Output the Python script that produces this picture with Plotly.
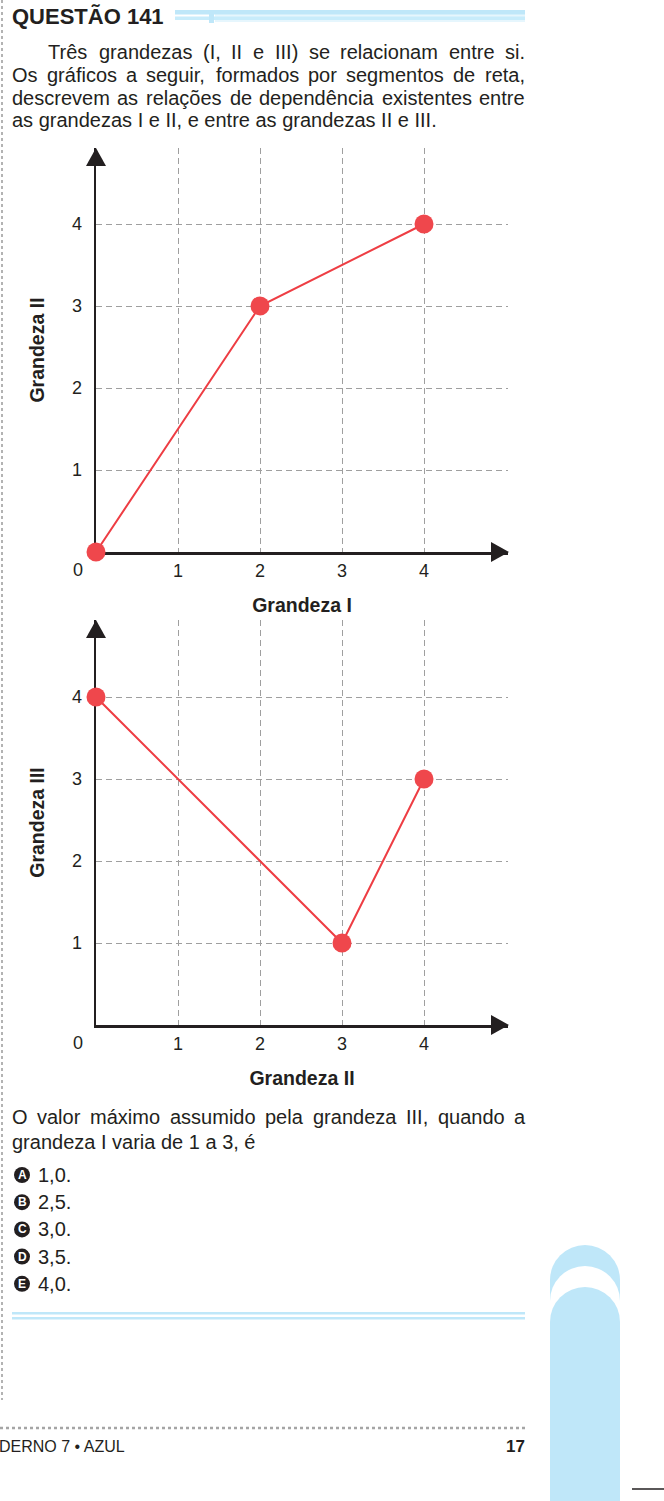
import unicodedata
import plotly.graph_objects as go

# ---------------- data ----------------
g1_grandeza_I = [0, 2, 4]
g1_grandeza_II = [0, 3, 4]
g2_grandeza_II = [0, 3, 4]
g2_grandeza_III = [4, 1, 3]
tick_vals = [1, 2, 3, 4]
tick_text = ["1", "2", "3", "4"]

title_text = "QUESTÃO 141"
intro_lines = [
    "Três grandezas (I, II e III) se relacionam entre si.",
    "Os gráficos a seguir, formados por segmentos de reta,",
    "descrevem as relações de dependência existentes entre",
    "as grandezas I e II, e entre as grandezas II e III.",
]
question_lines = [
    "O valor máximo assumido pela grandeza III, quando a",
    "grandeza I varia de 1 a 3, é",
]
option_letters = ["A", "B", "C", "D", "E"]
option_texts = ["1,0.", "2,5.", "3,0.", "3,5.", "4,0."]
footer_left = "DERNO 7 • AZUL"
footer_right = "17"

# ---------------- layout helpers ----------------
W_PX, H_PX = 664, 1501
FONT = "Liberation Sans, Arial, sans-serif"
INK = "#231f20"
RED_LINE = "#ee3d43"
RED_DOT = "#ef474c"
BLUE = "#bfe7f9"
GRID = "#9f9f9f"


def X(px):
    return px / W_PX


def Y(py):
    return 1 - py / H_PX


ARIAL = {
    " ": 278, "(": 333, ")": 333, ",": 278, ".": 278, "•": 350,
    "A": 667, "B": 667, "C": 722, "D": 722, "E": 667, "F": 611, "G": 778,
    "H": 722, "I": 278, "J": 500, "K": 667, "L": 556, "M": 833, "N": 722,
    "O": 778, "P": 667, "Q": 778, "R": 722, "S": 667, "T": 611, "U": 722,
    "V": 667, "W": 944, "X": 667, "Y": 667, "Z": 611,
    "a": 556, "b": 556, "c": 500, "d": 556, "e": 556, "f": 278, "g": 556,
    "h": 556, "i": 222, "j": 222, "k": 500, "l": 222, "m": 833, "n": 556,
    "o": 556, "p": 556, "q": 556, "r": 333, "s": 500, "t": 278, "u": 556,
    "v": 500, "w": 722, "x": 500, "y": 500, "z": 500,
}


def text_width(s, size):
    tot = 0
    for ch in s:
        base = unicodedata.normalize("NFD", ch)[0]
        tot += ARIAL.get(base, 556)
    return tot * size / 1000


annotations = []
shapes = []


def add_text(txt, x, y, size=20, bold=False, xanchor="left", color=INK):
    if bold:
        txt = "<b>" + txt + "</b>"
    annotations.append(dict(
        text=txt, x=X(x), y=Y(y), xref="paper", yref="paper",
        xanchor=xanchor, yanchor="middle", showarrow=False,
        borderpad=0, borderwidth=0,
        font=dict(family=FONT, size=size, color=color),
    ))


def add_justified(line, left, right, y, size=20):
    words = line.split(" ")
    widths = [text_width(w, size) for w in words]
    gap = (right - left - sum(widths)) / (len(words) - 1)
    cx = left
    for w, wd in zip(words, widths):
        add_text(w, cx, y, size)
        cx += wd + gap


def rect(x0, y0, x1, y1, color, layer="below"):
    shapes.append(dict(type="rect", xref="paper", yref="paper",
                       x0=X(x0), x1=X(x1), y0=Y(y1), y1=Y(y0),
                       fillcolor=color, line=dict(width=0), layer=layer))


def circle(cx, cy, r, color, layer="below"):
    shapes.append(dict(type="circle", xref="paper", yref="paper",
                       x0=X(cx - r), x1=X(cx + r), y0=Y(cy + r), y1=Y(cy - r),
                       fillcolor=color, line=dict(width=0), layer=layer))


def line(x0, y0, x1, y1, color, width, dash="solid"):
    shapes.append(dict(type="line", xref="paper", yref="paper",
                       x0=X(x0), x1=X(x1), y0=Y(y0), y1=Y(y1),
                       line=dict(color=color, width=width, dash=dash)))


def triangle(pts, color=INK):
    path = "M " + " L ".join(f"{X(a):.6f},{Y(b):.6f}" for a, b in pts) + " Z"
    shapes.append(dict(type="path", xref="paper", yref="paper", path=path,
                       fillcolor=color, line=dict(width=0), layer="above"))


# ---------------- page decorations ----------------
add_text(title_text, 12, 17, size=22, bold=True)
rect(215, 14, 525, 22, "#e6f6fd")
rect(175, 10, 525, 14.5, BLUE)
rect(175, 16.5, 525, 20, "#c8ecfb")
rect(209, 14, 214, 23, BLUE)

add_justified(intro_lines[0], 48, 525, 52)
add_justified(intro_lines[1], 12, 525, 75)
add_justified(intro_lines[2], 12, 525, 98)
add_text(intro_lines[3], 12, 120)

add_justified(question_lines[0], 12, 525, 1117)
add_text(question_lines[1], 12, 1142)

for i, (let, txt) in enumerate(zip(option_letters, option_texts)):
    yy = 1175 + 27.2 * i
    circle(22, yy, 8, INK, layer="above")
    add_text(let, 22, yy, size=12, bold=True, xanchor="center", color="white")
    add_text(txt, 38, yy, size=20)

rect(12, 1312, 525, 1314.5, BLUE)
rect(12, 1317, 525, 1319.5, BLUE)

# left border and footer
line(2, 0, 2, 1400, "#9a9a9a", 1.5, "dot")
line(0, 1428, 525, 1428, "#a5a5a5", 2.5, "dot")
add_text(footer_left, -1, 1446, size=16)
add_text(footer_right, 525, 1446, size=17, bold=True, xanchor="right")
line(632, 1489, 664, 1489, INK, 1.5)

# right arches
for top, col in [(1245, BLUE), (1266, "white"), (1287, BLUE)]:
    circle(585, top + 35, 35, col)
    rect(550, top + 35, 620, 1501, col)

# ---------------- charts ----------------
UNIT = 82
OX = 96
X_END = 508
O1, TOP1 = 552, 148
O2, TOP2 = 1025, 620

fig = go.Figure()
fig.add_trace(go.Scatter(
    x=g1_grandeza_I, y=g1_grandeza_II, xaxis="x", yaxis="y",
    mode="lines+markers", cliponaxis=False, showlegend=False,
    line=dict(color=RED_LINE, width=2),
    marker=dict(size=19, color=RED_DOT),
))
fig.add_trace(go.Scatter(
    x=g2_grandeza_II, y=g2_grandeza_III, xaxis="x2", yaxis="y2",
    mode="lines+markers", cliponaxis=False, showlegend=False,
    line=dict(color=RED_LINE, width=2),
    marker=dict(size=19, color=RED_DOT),
))

common_x = dict(
    tickvals=tick_vals, ticktext=tick_text, showgrid=True, gridcolor=GRID,
    gridwidth=1, griddash="6px,4px", showline=True, linecolor=INK,
    linewidth=2.5, zeroline=False, ticks="", ticklabelstandoff=1,
    tickfont=dict(family=FONT, size=18, color=INK), layer="below traces",
    fixedrange=True,
)
common_y = dict(common_x)
common_y["ticklabelstandoff"] = 8

xt = dict(font=dict(family=FONT, size=19.5, color=INK), standoff=19)
yt = dict(font=dict(family=FONT, size=19.5, color=INK), standoff=22)

layout_axes = dict(
    xaxis=dict(common_x, domain=[X(OX), X(X_END)], range=[0, (X_END - OX) / UNIT],
               anchor="y", title=dict(xt, text="<b>Grandeza I</b>")),
    yaxis=dict(common_y, domain=[Y(O1), Y(TOP1)], range=[0, (O1 - TOP1) / UNIT],
               anchor="x", title=dict(yt, text="<b>Grandeza II</b>")),
    xaxis2=dict(common_x, domain=[X(OX), X(X_END)], range=[0, (X_END - OX) / UNIT],
                anchor="y2", title=dict(xt, text="<b>Grandeza II</b>")),
    yaxis2=dict(common_y, domain=[Y(O2), Y(TOP2)], range=[0, (O2 - TOP2) / UNIT],
                anchor="x2", title=dict(yt, text="<b>Grandeza III</b>")),
)

for o, top in [(O1, TOP1), (O2, TOP2)]:
    add_text("0", 78, o + 18, size=18, xanchor="center")
    triangle([(OX, top), (OX - 10, top + 18), (OX + 10, top + 18)])
    triangle([(X_END + 1, o), (X_END - 17, o - 10), (X_END - 17, o + 10)])

fig.update_layout(
    width=W_PX, height=H_PX, margin=dict(l=0, r=0, t=0, b=0),
    paper_bgcolor="white", plot_bgcolor="white",
    font=dict(family=FONT, color=INK),
    annotations=annotations, shapes=shapes,
    **layout_axes,
)

fig.write_html(
    "out.html",
    config={"displayModeBar": False, "staticPlot": True},
    post_script="document.body.style.margin='0';document.body.style.padding='0';",
)
